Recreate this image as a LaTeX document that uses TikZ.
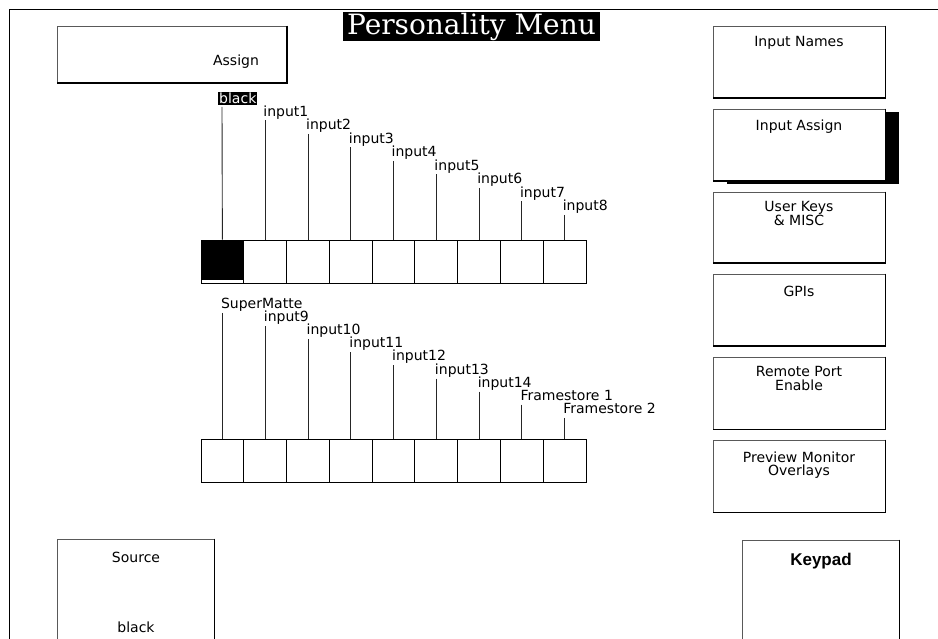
\documentclass[tikz,border=0pt]{standalone}
\usepackage{fontspec}
\setmainfont{DejaVu Sans}
\newfontfamily\titlefont{DejaVu Serif}
\newfontfamily\boldsans{Liberation Sans}
\begin{document}
\begin{tikzpicture}[x=1pt,y=-1pt,
  lab/.style={font=\fontsize{14}{14}\selectfont, inner sep=0pt, anchor=base west},
  btntext/.style={font=\fontsize{14}{14}\selectfont, inner sep=0pt, anchor=base},
  cell/.style={draw, line width=0.9pt, minimum width=42.78pt, minimum height=43pt, inner sep=0pt},
  btn/.style={draw=black!65, line width=0.8pt, fill=white, inner sep=0pt},
  edge3d/.style={line width=1.8pt},
  wire/.style={line width=0.9pt, draw=black!85}
]
\useasboundingbox (0,0) rectangle (938,639);
\clip (0,0) rectangle (938,639);
% frame
\coordinate (ftl) at (9,10);
\coordinate (ftr) at (940,10);
\coordinate (fbl) at (9,645);
\draw[line width=1pt] (ftr) -- (ftl) -- (fbl);
% title
\node[fill=black, text=white, inner sep=0pt, minimum width=257pt, minimum height=29pt,
      font=\titlefont\fontsize{28}{28}\selectfont] (title) at (471.5,26.5) {Personality Menu};
% Assign button
\node[btn, minimum width=229pt, minimum height=57pt] (assign) at (172,54.5) {};
\draw[edge3d] (assign.north east) -- (assign.south east) -- (assign.south west);
\node[btntext] (assignt) at (236,66) {Assign};
% right column
\node[btn, minimum width=172pt, minimum height=72pt] (names) at (799,62) {};
\draw[edge3d] (names.north east) -- (names.south east) -- (names.south west);
\node[btntext] (namest) at (799,47) {Input Names};
\node[fill=black, minimum width=172pt, minimum height=72pt, inner sep=0pt] (iashadow) at (813,148) {};
\node[btn, minimum width=172pt, minimum height=72pt] (iassign) at (799,145) {};
\draw[edge3d] (iassign.north east) -- (iassign.south east) -- (iassign.south west);
\node[btntext] (iassignt) at (799,131) {Input Assign};
\node[btn, minimum width=172pt, minimum height=71pt] (ukeys) at (799,227.5) {};
\draw[edge3d] (ukeys.north east) -- (ukeys.south east) -- (ukeys.south west);
\node[btntext] (ukeyst1) at (799,212) {User Keys};
\node[btntext] (ukeyst2) at (799,225.5) {\& MISC};
\node[btn, minimum width=172pt, minimum height=72pt] (gpis) at (799,310) {};
\draw[edge3d] (gpis.north east) -- (gpis.south east) -- (gpis.south west);
\node[btntext] (gpist) at (799,297) {GPIs};
\node[btn, minimum width=172pt, minimum height=72pt] (remote) at (799,393) {};
\draw[edge3d] (remote.north east) -- (remote.south east) -- (remote.south west);
\node[btntext] (remotet1) at (799,377) {Remote Port};
\node[btntext] (remotet2) at (799,390.5) {Enable};
\node[btn, minimum width=172pt, minimum height=72pt] (preview) at (799,476) {};
\draw[edge3d] (preview.north east) -- (preview.south east) -- (preview.south west);
\node[btntext] (previewt1) at (799,462) {Preview Monitor};
\node[btntext] (previewt2) at (799,475.5) {Overlays};
% bottom buttons
\node[btn, minimum width=157pt, minimum height=120pt] (source) at (135.5,599) {};
\draw[edge3d] (source.north east) -- (source.south east);
\node[btntext] (sourcet) at (136,562) {Source};
\node[btntext] (sourceb) at (136,632) {black};
\node[btn, minimum width=157pt, minimum height=120pt] (keypad) at (820.5,600) {};
\draw[edge3d] (keypad.north east) -- (keypad.south east);
\node[inner sep=0pt, anchor=base, font=\boldsans\bfseries\fontsize{17}{17}\selectfont] (keypadt) at (821,565) {Keypad};
% rows of cells
\foreach \i in {0,...,8} {
  \node[cell] (uc\i) at ({201+42.78*(\i+0.5)},261.5) {};
  \node[cell] (lc\i) at ({201+42.78*(\i+0.5)},460.5) {};
}
\fill ([shift={(1.7pt,-1pt)}]uc0.north west) rectangle ([shift={(-1pt,3pt)}]uc0.south east);
% upper labels
\coordinate (ut0) at (222,107);
\draw[wire] (ut0) -- (uc0.north);
\node[lab, fill=black, text=white, inner sep=1pt] (ul0) at (218,104) {black};
\foreach \i in {1,...,8} {
  \coordinate (ut\i) at ({201+42.78*(\i+0.5)},{107+13.5*\i});
  \draw[wire] (ut\i) -- (uc\i.north);
  \node[lab] (ul\i) at ([xshift=-2pt,yshift=4pt]ut\i) {input\i};
}
% lower labels
\foreach \i/\t in {0/SuperMatte,1/input9,2/input10,3/input11,4/input12,5/input13,6/input14,7/Framestore 1,8/Framestore 2} {
  \coordinate (lt\i) at ({201+42.78*(\i+0.5)},{313+13.1*\i});
  \draw[wire] (lt\i) -- (lc\i.north);
  \node[lab] (ll\i) at ([xshift=-1.5pt,yshift=4.5pt]lt\i) {\t};
}
\end{tikzpicture}
\end{document}
